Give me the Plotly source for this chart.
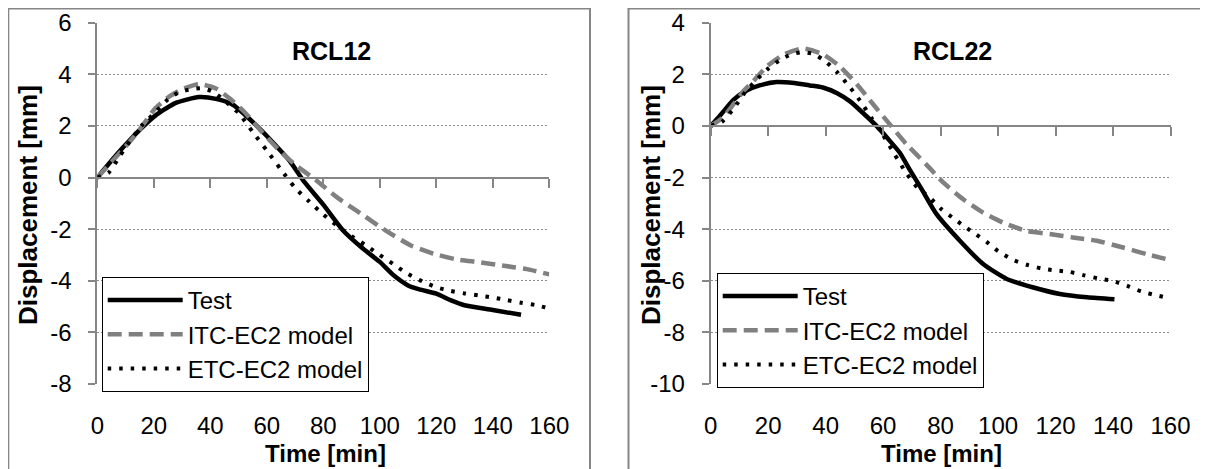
import plotly.graph_objects as go

# ---------------- data ----------------
# RCL12
t12_test = [0, 5, 9, 15, 21, 28, 36, 42, 48, 56, 62, 68, 73, 80, 87, 94, 100, 105, 110, 114, 120, 125, 130, 140, 150]
d12_test = [0, 0.65, 1.15, 1.85, 2.44, 2.9, 3.12, 3.05, 2.82, 2.05, 1.38, 0.66, -0.13, -1.05, -2.05, -2.75, -3.27, -3.8, -4.18, -4.33, -4.5, -4.75, -4.95, -5.13, -5.32]

t12_itc = [0, 5, 10, 15, 20, 25, 30, 36, 42, 47, 52, 58, 64, 70, 78, 85, 92, 102, 111, 119, 127, 135, 144, 152, 160]
d12_itc = [0, 0.6, 1.2, 1.85, 2.62, 3.1, 3.42, 3.62, 3.45, 3.05, 2.55, 1.8, 1.1, 0.5, -0.15, -0.78, -1.3, -2.05, -2.63, -2.95, -3.17, -3.28, -3.42, -3.55, -3.75]

t12_etc = [0, 4, 8, 12, 16, 20, 25, 29, 33, 37, 41, 45, 50, 55, 60, 65, 70, 75, 80, 85, 90, 95, 100, 105, 110, 115, 120, 125, 130, 135, 140, 145, 150, 155, 160]
d12_etc = [0, 0.19, 0.84, 1.48, 2.05, 2.47, 3.03, 3.31, 3.42, 3.46, 3.32, 2.98, 2.5, 1.77, 1.05, 0.31, -0.4, -0.93, -1.43, -1.88, -2.27, -2.62, -3.0, -3.37, -3.74, -4.02, -4.25, -4.39, -4.49, -4.57, -4.65, -4.75, -4.85, -4.94, -5.07]

# RCL22
t22_test = [0, 3, 8, 12.5, 17, 23, 29, 34.5, 39, 44, 48.5, 53, 57.7, 62.4, 65.8, 69.3, 73.4, 78.6, 86.7, 94.8, 103, 112, 121.5, 131, 140.5]
d22_test = [0, 0.37, 1.02, 1.37, 1.57, 1.7, 1.66, 1.57, 1.49, 1.27, 0.95, 0.5, 0, -0.59, -1.04, -1.7, -2.45, -3.42, -4.45, -5.35, -5.93, -6.25, -6.51, -6.64, -6.72]

t22_itc = [0, 4, 8, 11.3, 14.8, 19.5, 25.3, 32, 39, 45, 51, 56.6, 62.4, 68.2, 75, 81, 88, 94.8, 101.8, 110, 118, 126, 134.3, 143.5, 151.7, 160]
d22_itc = [0, 0.3, 0.85, 1.34, 1.73, 2.3, 2.76, 3.0, 2.78, 2.3, 1.6, 0.83, 0.05, -0.72, -1.49, -2.2, -2.85, -3.36, -3.75, -4.07, -4.19, -4.32, -4.45, -4.71, -4.97, -5.2]

t22_etc = [0, 4, 8, 12, 16, 20, 24, 28, 32, 36, 40, 44, 48, 52, 56, 60, 64, 68, 72, 76, 80, 84, 88, 92, 96, 100, 105, 110, 115, 120, 125, 130, 135, 140, 145, 150, 155, 160]
d22_etc = [0, 0.17, 0.68, 1.31, 1.79, 2.22, 2.55, 2.77, 2.86, 2.78, 2.49, 2.08, 1.56, 0.97, 0.3, -0.36, -1.1, -1.82, -2.4, -2.75, -3.2, -3.54, -3.87, -4.18, -4.49, -4.85, -5.18, -5.38, -5.52, -5.6, -5.66, -5.79, -5.91, -6.01, -6.2, -6.42, -6.56, -6.68]

series_names = ["Test", "ITC-EC2 model", "ETC-EC2 model"]
chart_titles = ["RCL12", "RCL22"]
x_title = "Time [min]"
y_title = "Displacement [mm]"
x_ticks = [0, 20, 40, 60, 80, 100, 120, 140, 160]
y_ticks_12 = [-8, -6, -4, -2, 0, 2, 4, 6]
y_ticks_22 = [-10, -8, -6, -4, -2, 0, 2, 4]
y_range_12 = [-8, 6]
y_range_22 = [-10, 4]

# ---------------- layout helpers ----------------
W, H = 1208, 469
OFF = 8  # default page (body) margin of the HTML page
FONT = "Liberation Sans, Arial, sans-serif"
GRAY = "#868686"


def fx(px):
    return (px - OFF) / W


def fy(py):
    return 1 - (py - OFF) / H


ydom = [fy(384), fy(22.7)]
xdom_l = [fx(97.3), fx(549.3)]
xdom_r = [fx(710.7), fx(1170.5)]


def zero_pos(rng):
    return ydom[0] + (0 - rng[0]) / (rng[1] - rng[0]) * (ydom[1] - ydom[0])


def hyphen_labels(vals):
    return [str(v) for v in vals]


styles = [
    dict(color="black", width=4.5),
    dict(color="#808080", width=4.5, dash="14px,7px"),
    dict(color="black", width=4, dash="3.5px,8px"),
]

fig = go.Figure()

left = [(t12_test, d12_test), (t12_itc, d12_itc), (t12_etc, d12_etc)]
right = [(t22_test, d22_test), (t22_itc, d22_itc), (t22_etc, d22_etc)]

for (t, d), name, st in zip(left, series_names, styles):
    fig.add_trace(go.Scatter(x=t, y=d, mode="lines", name=name, line=dict(shape="spline", smoothing=0.6, **st),
                             xaxis="x", yaxis="y", legend="legend"))
for (t, d), name, st in zip(right, series_names, styles):
    fig.add_trace(go.Scatter(x=t, y=d, mode="lines", name=name, line=dict(shape="spline", smoothing=0.6, **st),
                             xaxis="x2", yaxis="y2", legend="legend2"))

# helper traces so the label axes get drawn
fig.add_trace(go.Scatter(x=[], y=[], xaxis="x3", yaxis="y", showlegend=False, hoverinfo="skip"))
fig.add_trace(go.Scatter(x=[], y=[], xaxis="x4", yaxis="y2", showlegend=False, hoverinfo="skip"))

tickfont = dict(family=FONT, size=24, color="black")

zero_axis = dict(range=[0, 160], tickvals=x_ticks, showticklabels=False, ticks="outside", ticklen=9,
                 tickwidth=2, tickcolor=GRAY, showline=True, linecolor=GRAY, linewidth=2,
                 showgrid=False, zeroline=False, anchor="free", automargin=False)
label_axis = dict(range=[0, 160], tickvals=x_ticks, ticktext=hyphen_labels(x_ticks), showticklabels=True,
                  ticks="", showline=False, showgrid=False, zeroline=False, tickfont=tickfont,
                  ticklabelstandoff=25, side="bottom", automargin=False)
y_common = dict(showline=True, linecolor=GRAY, linewidth=2, ticks="outside", ticklen=7,
                tickwidth=2, tickcolor=GRAY, showgrid=True, gridcolor="#8c8c8c", gridwidth=1,
                griddash="2px,2px", zeroline=False, tickfont=tickfont, ticklabelstandoff=12,
                automargin=False)

legend_font = dict(family=FONT, size=24, color="black")

fig.update_layout(
    width=W, height=H, margin=dict(l=0, r=0, t=0, b=0, autoexpand=False),
    paper_bgcolor="white", plot_bgcolor="white",
    font=dict(family=FONT, size=24, color="black"),
    xaxis=dict(domain=xdom_l, position=zero_pos(y_range_12), **zero_axis),
    xaxis2=dict(domain=xdom_r, position=zero_pos(y_range_22), **zero_axis),
    xaxis3=dict(overlaying="x", matches="x", anchor="y", **label_axis),
    xaxis4=dict(overlaying="x2", matches="x2", anchor="y2", **label_axis),
    yaxis=dict(domain=ydom, range=y_range_12, anchor="x", tickvals=y_ticks_12,
               ticktext=hyphen_labels(y_ticks_12), **y_common),
    yaxis2=dict(domain=ydom, range=y_range_22, anchor="x2", tickvals=y_ticks_22,
                ticktext=hyphen_labels(y_ticks_22), **y_common),
    legend=dict(x=fx(101.7), y=fy(277), xanchor="left", yanchor="top", bgcolor="white",
                bordercolor="black", borderwidth=1, font=legend_font, itemwidth=75),
    legend2=dict(x=fx(716.7), y=fy(273), xanchor="left", yanchor="top", bgcolor="white",
                 bordercolor="black", borderwidth=1, font=legend_font, itemwidth=75),
    showlegend=True,
)

# chart-area frames
fig.add_shape(type="rect", xref="paper", yref="paper", x0=fx(8.3), x1=fx(590), y0=-0.1, y1=fy(8.5),
              line=dict(color=GRAY, width=2), fillcolor="rgba(0,0,0,0)", layer="below")
fig.add_shape(type="rect", xref="paper", yref="paper", x0=fx(628.5), x1=1.1, y0=-0.1, y1=fy(8.5),
              line=dict(color=GRAY, width=2), fillcolor="rgba(0,0,0,0)", layer="below")

title_font = dict(family=FONT, size=25, color="black")
x_title_font = dict(family=FONT, size=24, color="black")
y_title_font = dict(family=FONT, size=26, color="black")
ann = [
    dict(text="<b>%s</b>" % chart_titles[0], x=fx(331.7), y=fy(51), font=title_font),
    dict(text="<b>%s</b>" % chart_titles[1], x=fx(952), y=fy(51), font=title_font),
    dict(text="<b>%s</b>" % x_title, x=fx(325), y=fy(453), font=x_title_font),
    dict(text="<b>%s</b>" % x_title, x=fx(941), y=fy(453), font=x_title_font),
    dict(text="<b>%s</b>" % y_title, x=fx(28), y=fy(205), textangle=-90, font=y_title_font),
    dict(text="<b>%s</b>" % y_title, x=fx(651), y=fy(205), textangle=-90, font=y_title_font),
]
for a in ann:
    fig.add_annotation(xref="paper", yref="paper", showarrow=False, xanchor="center", yanchor="middle", **a)

fig.write_html("out.html")
